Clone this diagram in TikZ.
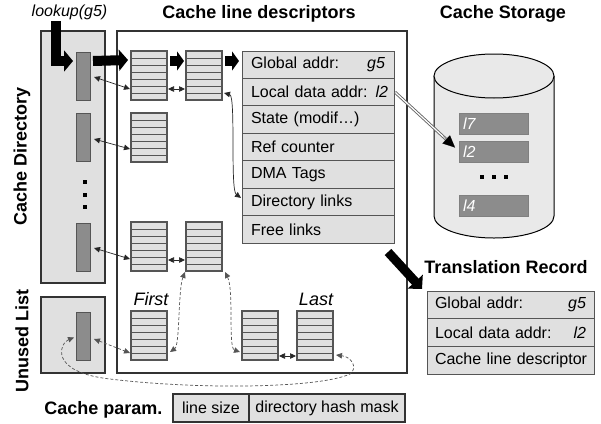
\documentclass[tikz,border=0pt]{standalone}
\usepackage{fontspec}
\setmainfont{Liberation Sans}
\usetikzlibrary{arrows.meta,calc}
\definecolor{lg}{HTML}{E0E0E0}
\definecolor{dg}{HTML}{8C8C8C}
\definecolor{bd}{HTML}{333333}
\definecolor{sb}{HTML}{555555}
\begin{document}
\begin{tikzpicture}[x=1pt,y=-1pt,font=\fontsize{16}{19}\selectfont,
  every node/.style={outer sep=0pt},
  tt/.tip={Triangle[length=6pt,width=5.5pt]},
  box/.style={draw=bd,line width=2pt,fill=lg},
  bar/.style={draw=sb,line width=0.8pt,fill=dg,minimum width=14pt,minimum height=48pt,inner sep=0pt,anchor=north west},
  dstack/.style={draw=sb,line width=1.2pt,fill=lg,minimum width=36pt,minimum height=49pt,inner sep=0pt,anchor=north west,
    path picture={\foreach \i in {1,...,6}{\draw[sb,line width=0.8pt] ($(path picture bounding box.north west)!\i/7!(path picture bounding box.south west)$) -- ($(path picture bounding box.north east)!\i/7!(path picture bounding box.south east)$);}}},
  trow/.style={draw=sb,line width=1pt,fill=lg,anchor=north west,inner xsep=9pt,inner ysep=0pt,text width=134pt,minimum height=27.43pt,align=left},
  xrow/.style={draw=sb,line width=1pt,fill=lg,anchor=north west,inner xsep=8pt,inner ysep=0pt,text width=151pt,minimum height=27.7pt,align=left},
  srect/.style={draw=gray,line width=0.8pt,fill=dg,anchor=north west,inner xsep=4pt,inner ysep=0pt,text width=61pt,minimum height=21pt,align=left,text=white,font=\fontsize{16}{19}\selectfont\itshape},
  title/.style={font=\fontsize{18}{21}\selectfont\bfseries},
  thinarr/.style={line width=0.7pt,draw=black!85,arrows={tt-tt}},
  dasharr/.style={line width=0.7pt,draw=sb,dash pattern=on 3pt off 2pt,arrows={tt-tt}},
  blk/.style={line width=10pt,draw=black,line join=miter,-{Triangle[length=9pt,width=21pt]}},
  dot/.style={fill=black,minimum size=4pt,inner sep=0pt}]
\useasboundingbox (0,0) rectangle (601,423);

% titles
\node[font=\fontsize{16}{19}\selectfont\itshape] (lookup) at (69.5,12) {lookup(g5)};
\node[title] (tcld) at (259,14) {Cache line descriptors};
\node[title] (tcs) at (503,14) {Cache Storage};
\node[title] (ttr) at (506,267) {Translation Record};
\node[title] (tcp) at (103.5,410) {Cache param.};
\node[title,rotate=90] (tcd) at (22,156) {Cache Directory};
\node[title,rotate=90] (tul) at (22,341) {Unused List};

% frames
\draw[box] (41,31) rectangle (105,283);
\draw[box] (41,297) rectangle (105,373);
\draw[draw=bd,line width=2pt,fill=white] (117,31) rectangle (407,373);

% directory bars
\node[bar] (b1) at (76,52) {};
\node[bar] (b2) at (76,113) {};
\node[bar] (b3) at (76,223) {};
\node[bar] (ub) at (76,312) {};
\node[dot] (d1) at (85,182) {};
\node[dot] (d2) at (85,195) {};
\node[dot] (d3) at (85,207) {};

% descriptor stacks
\node[dstack] (s11) at (131,51) {};
\node[dstack] (s12) at (186,51) {};
\node[dstack] (s21) at (131,113) {};
\node[dstack] (s31) at (131,222) {};
\node[dstack] (s32) at (186,222) {};
\node[dstack] (s41) at (131,311) {};
\node[dstack] (s51) at (242,311) {};
\node[dstack] (s52) at (297,311) {};
\node[font=\fontsize{18}{21}\selectfont\itshape] (first) at (151,299) {First};
\node[font=\fontsize{18}{21}\selectfont\itshape] (last) at (316,299) {Last};

% descriptor table
\node[trow] (r1) at (242,51) {Global addr:\hfill\textit{g5}};
\node[trow] (r2) at (r1.south west) {\mbox{Local data addr: \textit{l2}}};
\node[trow] (r3) at (r2.south west) {State (modif\dots)};
\node[trow] (r4) at (r3.south west) {Ref counter};
\node[trow] (r5) at (r4.south west) {DMA Tags};
\node[trow] (r6) at (r5.south west) {Directory links};
\node[trow] (r7) at (r6.south west) {Free links};

% storage cylinder
\draw[line width=1pt,fill=lg!70!white] (434,76) -- (434,216) arc[start angle=180,end angle=0,x radius=60,y radius=22] -- (554,76);
\draw[line width=1pt,fill=lg!70!white] (494,76) ellipse [x radius=60,y radius=22];
\node[srect] (st1) at (459,113) {l7};
\node[srect] (st2) at (459,141) {l2};
\node[srect] (st3) at (459,195) {l4};
\node[dot] (e1) at (482,177) {};
\node[dot] (e2) at (494,177) {};
\node[dot] (e3) at (506,177) {};

% translation record
\node[xrow] (t1) at (427,291) {Global addr:\hfill\textit{g5}};
\node[xrow] (t2) at (t1.south west) {Local data addr:\hfill\textit{l2}\hspace{4pt}};
\node[xrow] (t3) at (t2.south west) {\mbox{Cache line descriptor}};

% cache param
\node[draw=bd,line width=1.5pt,fill=lg,anchor=north west,minimum width=76pt,minimum height=28pt,inner sep=0pt] (cp1) at (173,394) {line size};
\node[draw=bd,line width=1.5pt,fill=lg,anchor=north west,minimum width=156pt,minimum height=28pt,inner sep=0pt] (cp2) at (cp1.north east) {directory hash mask};

% block arrows
\coordinate (lk) at (56,21);
\draw[blk] (lk) |- ($(b1.north west)+(-3,9)$);
\draw[blk] ($(b1.north east)+(3,9)$) -- ($(s11.north west)+(-3,9)$);
\draw[blk,-{Triangle[length=7pt,width=19pt]}] ($(s11.north east)+(3,10)$) -- ($(s12.north west)+(-2,10)$);
\draw[blk,-{Triangle[length=7pt,width=19pt]}] ($(s12.north east)+(3,10)$) -- ($(r1.north west)+(-3,10)$);
\coordinate (ta) at (388,252);
\draw[blk,line width=9pt,-{Triangle[length=10pt,width=20pt]}] (ta) -- ($(t1.north west)+(-5,-2)$);

% thin arrows
\draw[thinarr] ($(b1.east)+(4,1)$) -- ($(s11.south west)+(-1,-11)$);
\draw[thinarr] ($(b2.east)+(4,2)$) -- ($(s21.south west)+(-1,-13)$);
\draw[thinarr] ($(b3.east)+(4,1)$) -- ($(s31.south west)+(-1,-12)$);
\draw[dasharr] ($(ub.east)+(4,3)$) -- ($(s41.south west)+(-1,-7)$);
\draw[thinarr] ($(s11.south east)+(1,-11)$) -- ($(s12.south west)+(-1,-11)$);
\draw[thinarr] ($(s31.south east)+(1,-11)$) -- ($(s32.south west)+(-1,-11)$);
\draw[thinarr] ($(s51.south east)+(1,-4)$) -- ($(s52.south west)+(-1,-4)$);

% curves
\draw[thinarr] ($(s12.south east)+(2,-7)$) .. controls (236,96) and (230,190) .. ($(r6.west)+(-1,-4)$);
\draw[dasharr] ($(s32.south west)+(-1,1)$) .. controls (178,290) and (180,345) .. ($(s41.south east)+(3,-8)$);
\draw[dasharr] ($(s32.south east)+(3,1)$) .. controls (234,290) and (228,348) .. ($(s51.south west)+(-2,-8)$);
\draw[dasharr] ($(ub.west)+(-2,1.5)$) .. controls (60,343) and (48,372) .. (110,379) .. controls (200,390) and (320,388) .. (350,374) .. controls (358,368) and (352,357) .. ($(s52.south east)+(3,-5)$);

% double-line arrow to storage
\coordinate (da) at ($(r2.east)+(1,0)$);
\coordinate (db) at ($(st2.west)+(-4,-4)$);
\draw[line width=3pt,draw=gray!80!black] (da) -- ($(da)!0.85!(db)$);
\draw[line width=1.2pt,draw=white,shorten <=0.5pt] (da) -- ($(da)!0.85!(db)$);
\draw[line width=0.1pt,-{Triangle[length=12pt,width=11pt]}] ($(da)!0.8!(db)$) -- (db);
\end{tikzpicture}
\end{document}
